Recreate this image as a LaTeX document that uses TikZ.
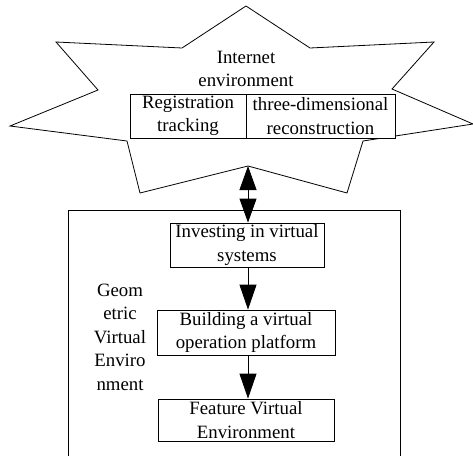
\documentclass[tikz,border=0pt]{standalone}
\usepackage{fontspec}
\setmainfont{Liberation Serif}
\usetikzlibrary{arrows.meta}
\begin{document}
\begin{tikzpicture}[x=1pt,y=-1pt,
  every node/.style={font=\fontsize{18.8}{23.5}\selectfont, align=center, inner sep=0pt},
  boxnode/.style={draw, line width=0.8pt},
  bigarrow/.style={line width=0.8pt, -{Triangle[length=25pt,width=17pt]}},
  dblarrow/.style={line width=0.8pt, {Triangle[length=24pt,width=17pt]}-{Triangle[length=24pt,width=17pt]}}]
\useasboundingbox (0,0) rectangle (473,455);

% star-shaped outline of the Internet environment
\draw[line width=0.8pt] (246,6) -- (310,48) -- (434,42) -- (392,89) -- (473,124)
  -- (363,141) -- (347,193) -- (248,166) coordinate (starvalley) -- (140,193)
  -- (127,141) -- (10,126) -- (98,90) -- (56,42) -- (182,48) -- cycle;
\node (inet) at (246,69) {Internet\\environment};

% two-cell table inside the star
\node[boxnode, fill=white, minimum width=116pt, minimum height=44pt] (reg) at (188,116) {Registration\\tracking};
\node[boxnode, fill=white, minimum width=149pt, minimum height=44pt] (recon) at (320.5,116) {three-dimensional\\reconstruction};

% outer frame of the geometric virtual environment
\draw[line width=0.8pt] (68,460) -- (68,210) -- (400,210) -- (400,460);
\node (geo) at (120,337) {Geom\\etric\\Virtual\\Enviro\\nment};

% process steps
\node[boxnode, minimum width=154pt, minimum height=44pt] (inv) at (247,245) {Investing in virtual\\systems};
\node[boxnode, minimum width=178pt, minimum height=45pt] (build) at (246,332.5) {Building a virtual\\operation platform};
\node[boxnode, minimum width=176pt, minimum height=42pt] (feat) at (246,420) {Feature Virtual\\Environment};

% connectors
\draw[dblarrow] (starvalley) -- (starvalley |- inv.north);
\draw[bigarrow] (inv.south -| starvalley) -- (build.north -| starvalley);
\draw[bigarrow] (build.south -| starvalley) -- (feat.north -| starvalley);
\end{tikzpicture}
\end{document}
